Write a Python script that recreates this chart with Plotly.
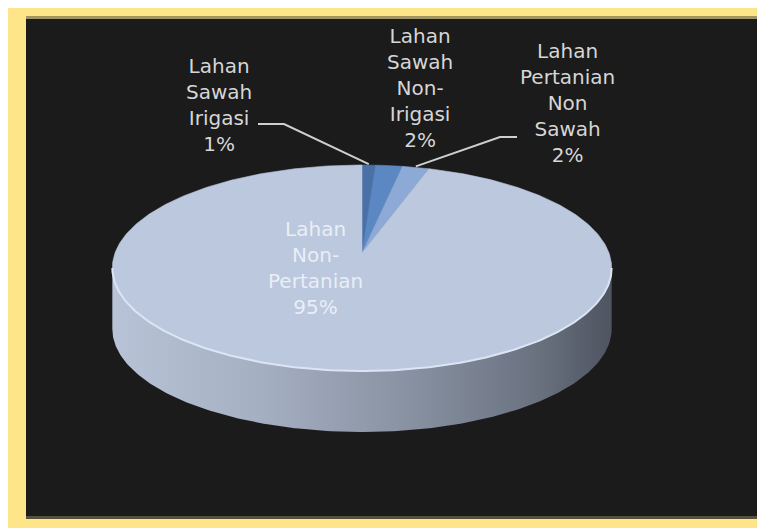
import numpy as np
import plotly.graph_objects as go

# ---------------- data ----------------
categories = ["Lahan Sawah Irigasi", "Lahan Sawah Non-Irigasi",
              "Lahan Pertanian Non Sawah", "Lahan Non Pertanian"]
values = [1, 2, 2, 95]
label_lines = [["Lahan", "Sawah", "Irigasi"],
               ["Lahan", "Sawah", "Non-", "Irigasi"],
               ["Lahan", "Pertanian", "Non", "Sawah"],
               ["Lahan", "Non-", "Pertanian"]]

# ---------------- styling / layout ----------------
W, H = 757, 528
slice_colors = ["#4A71A6", "#5B88C3", "#8DAAD6", "#BCC8DE"]
text_colors = ["#D6D6D6", "#D6D6D6", "#D6D6D6", "#E9EEF7"]
label_pos = [(219, 105), (420, 88), (567, 103), (315, 268)]
leader_elbows = [[(258, 124), (284, 124)], None, [(517, 137), (500, 137)], None]

# 3D-pie projection parameters (pixels)
cx, cy0 = 362, 253
A, B, C = 247, 100.8, 0.1456
DEPTH = 61


def proj(u, v):
    s = 1.0 / (1.0 - C * v)
    return cx + A * u * s, cy0 + B * v * s


def proj_phi(phi):
    return proj(np.sin(phi), -np.cos(phi))


fig = go.Figure()

# frame
shapes = [
    dict(type="rect", x0=8, x1=W, y0=8, y1=H, fillcolor="#FFE58A", line_width=0, layer="below"),
    dict(type="rect", x0=26, x1=W, y0=16, y1=519, fillcolor="#A39463", line_width=0, layer="below"),
    dict(type="rect", x0=26, x1=W, y0=19, y1=516, fillcolor="#1B1B1B", line_width=0, layer="below"),
    dict(type="rect", x0=26, x1=W, y0=516, y1=519, fillcolor="#57523A", line_width=0, layer="below"),
]

# side of the pie (front half)
t0, t1 = np.arcsin(C), np.pi - np.arcsin(C)
t = np.linspace(t0, t1, 200)
sx, sy = proj(np.cos(t), np.sin(t))
side_x = np.concatenate([sx, sx[::-1]])
side_y = np.concatenate([sy, sy[::-1] + DEPTH])
fig.add_trace(go.Scatter(
    x=side_x, y=side_y, mode="lines", fill="toself", line=dict(width=0, color="#777"),
    fillgradient=dict(type="horizontal",
                      colorscale=[[0, "#B9C3D7"], [0.3, "#A5AFC2"], [0.6, "#8891A1"],
                                  [0.85, "#6A7280"], [1, "#4E5460"]]),
    hoverinfo="skip", showlegend=False))

# top face slices
total = float(sum(values))
cum = np.cumsum([0] + values) / total
mids = []
for i, cat in enumerate(categories):
    p0, p1 = 2 * np.pi * cum[i], 2 * np.pi * cum[i + 1]
    n = max(8, int(400 * (p1 - p0) / (2 * np.pi)))
    phi = np.linspace(p0, p1, n)
    ax_, ay_ = proj_phi(phi)
    xs = np.concatenate([[cx], ax_, [cx]])
    ys = np.concatenate([[cy0], ay_, [cy0]])
    fig.add_trace(go.Scatter(
        x=xs, y=ys, mode="lines", fill="toself", fillcolor=slice_colors[i],
        line=dict(width=0.6, color=slice_colors[i]), name=cat,
        hoverinfo="skip", showlegend=False))
    mids.append((p0 + p1) / 2)

# rim highlight on front edge
fig.add_trace(go.Scatter(x=sx, y=sy, mode="lines", line=dict(width=2, color="#DCE5F6"),
                         hoverinfo="skip", showlegend=False))

# leader lines
for i in range(len(categories)):
    if leader_elbows[i] is None:
        continue
    ex, ey = proj_phi(mids[i])
    pts = leader_elbows[i] + [(ex, ey - 1)]
    fig.add_trace(go.Scatter(x=[p[0] for p in pts], y=[p[1] for p in pts], mode="lines",
                             line=dict(width=2, color="#CFCFCF"), hoverinfo="skip",
                             showlegend=False))

# labels
annotations = []
for i, cat in enumerate(categories):
    pct = round(100 * values[i] / total)
    txt = "<br>".join(label_lines[i] + [f"{pct}%"])
    annotations.append(dict(x=label_pos[i][0], y=label_pos[i][1], xref="x", yref="y",
                            text=txt, showarrow=False, align="center",
                            font=dict(family="DejaVu Sans", size=20, color=text_colors[i])))

fig.update_layout(
    width=W, height=H, autosize=False,
    margin=dict(l=0, r=0, t=0, b=0),
    paper_bgcolor="white", plot_bgcolor="white",
    xaxis=dict(range=[0, W], visible=False, fixedrange=True),
    yaxis=dict(range=[H, 0], visible=False, fixedrange=True),
    shapes=shapes, annotations=annotations,
)

fig.write_html("out.html", config={"displayModeBar": False},
               post_script="document.body.style.margin='0';document.body.style.overflow='hidden';")
